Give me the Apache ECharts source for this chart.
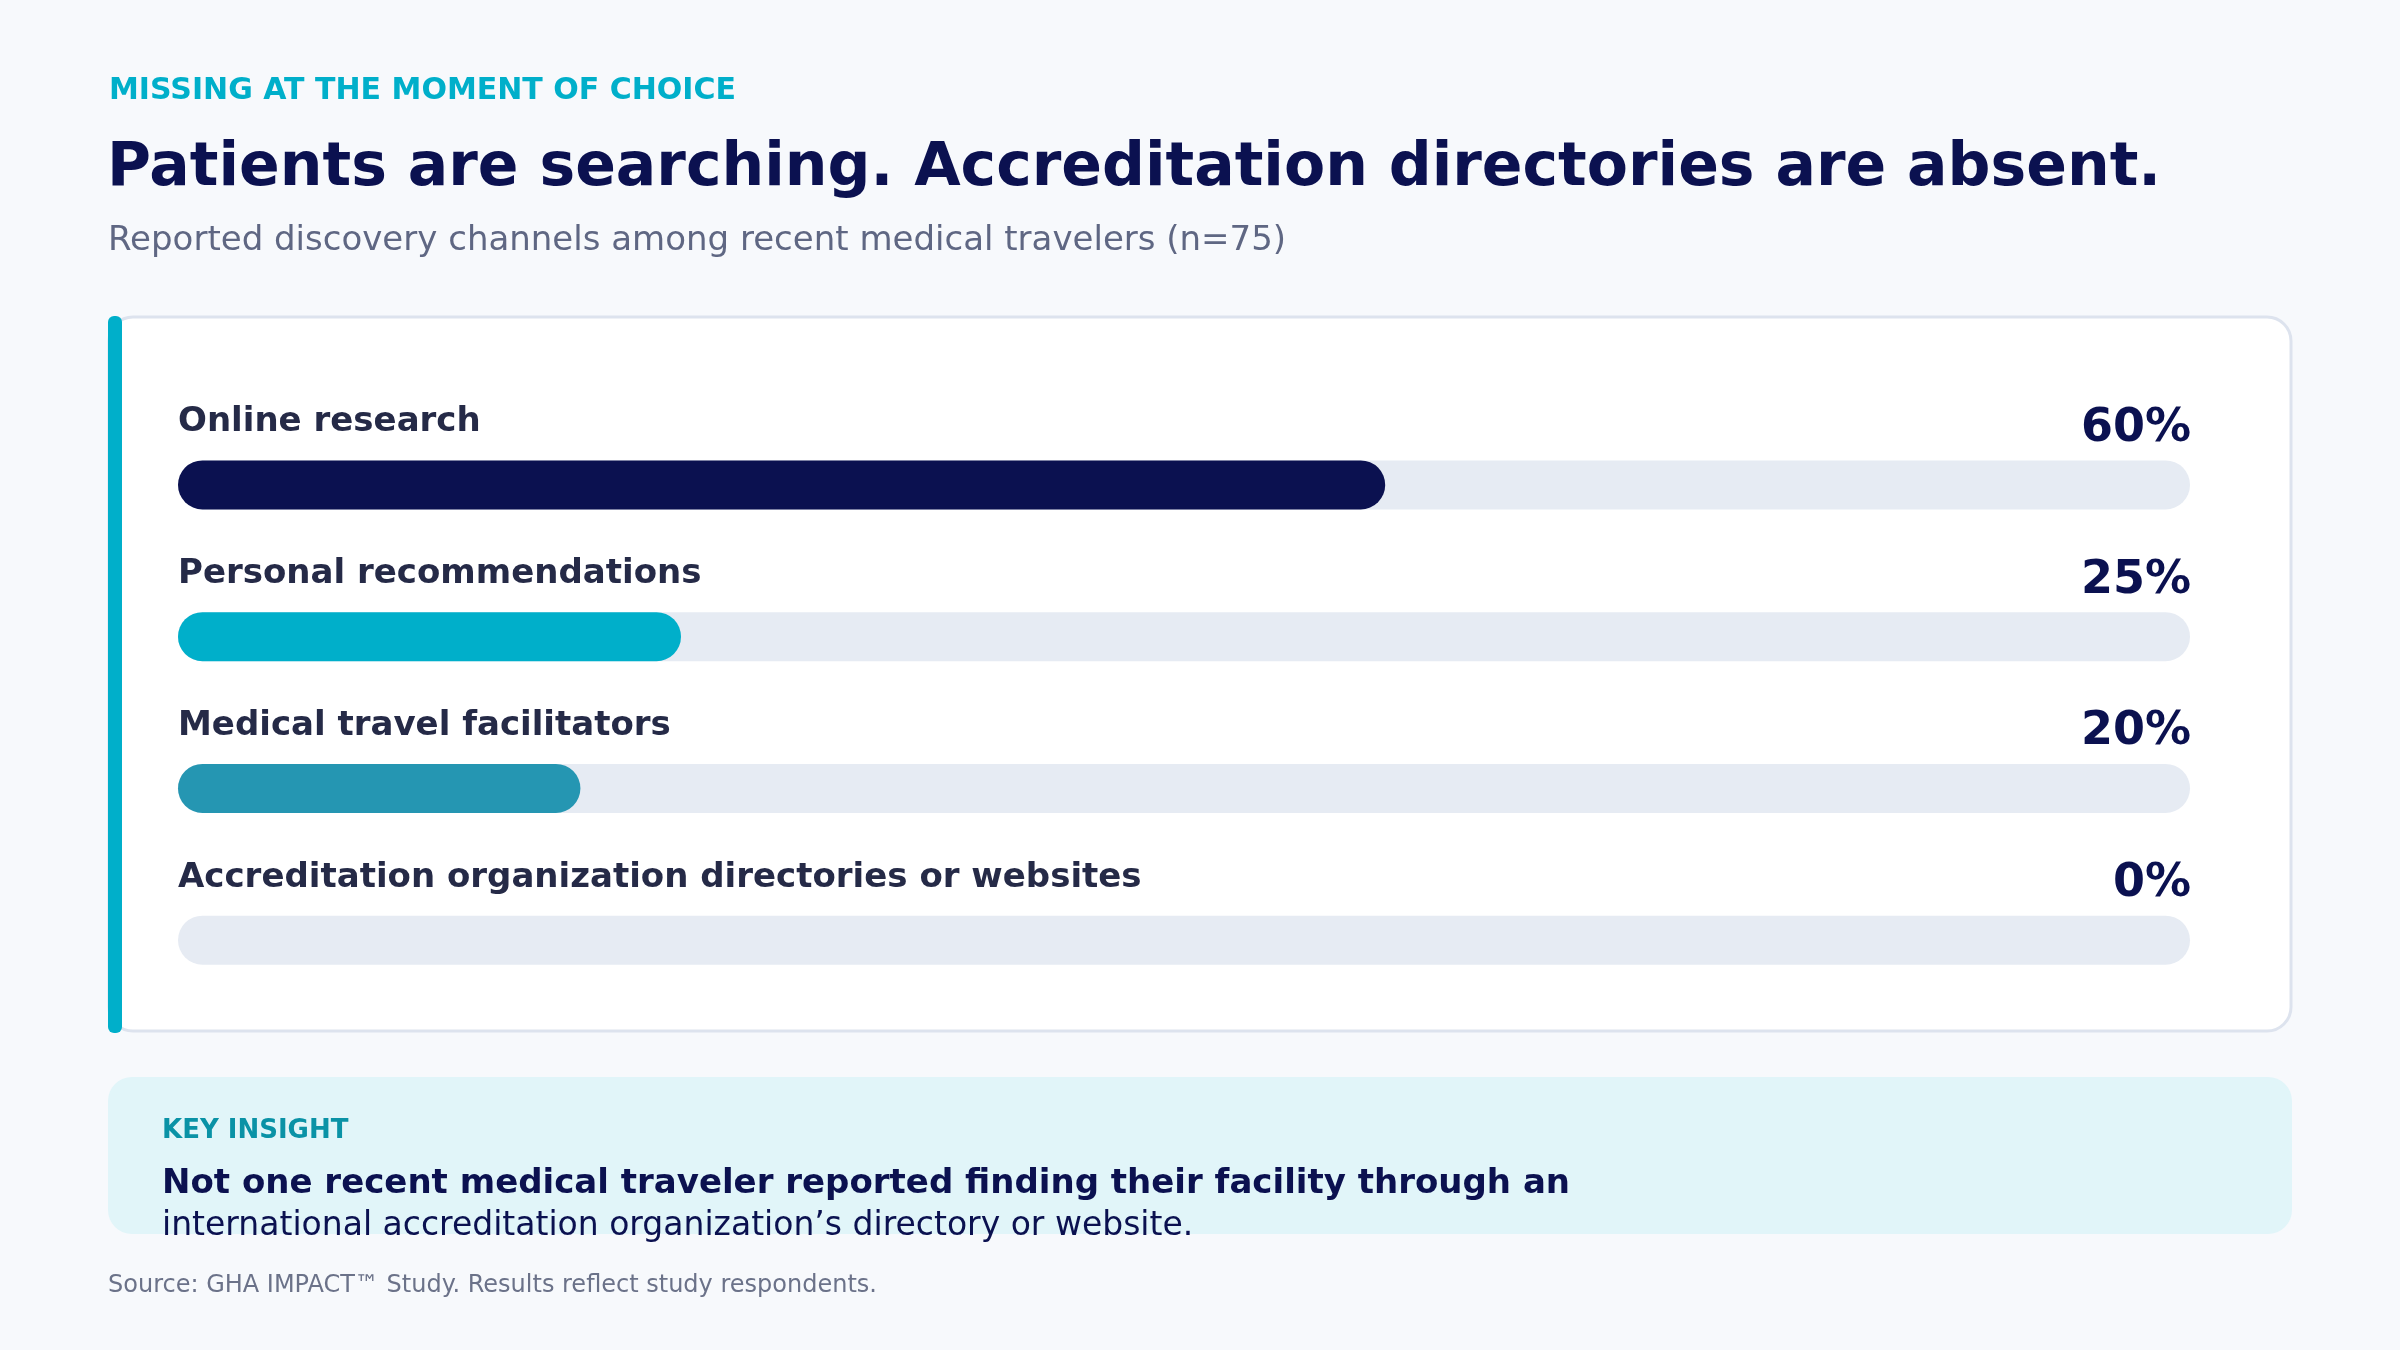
<!DOCTYPE html>
<html>
<head>
<meta charset="utf-8">
<script src="https://cdn.jsdelivr.net/npm/echarts@6/dist/echarts.min.js"></script>
<style>
  html, body { margin: 0; padding: 0; background: #f7f9fc; }
  #chart { width: 2400px; height: 1350px; }
</style>
</head>
<body>
<div id="chart"></div>
<script>
// discovery channels, top to bottom
var channels = [
    'Online research',
    'Personal recommendations',
    'Medical travel facilitators',
    'Accreditation organization directories or websites'
];
var shares = [60, 25, 20, 0];
var barColors = ['#0b1150', '#00afca', '#2596b2', '#0b1150'];
var axisTicks = [0, 100];

var FONT = 'DejaVu Sans';
var NAVY = '#0b1150';

// y for a middle-aligned text whose baseline should sit at b
function mid(b, fs) { return b - 0.29 * fs; }

var chart = echarts.init(document.getElementById('chart'));

function txt(x, b, fs, weight, color, text) {
    return {
        type: 'text', x: x, y: mid(b, fs), z: 2,
        style: { text: text, font: weight + ' ' + fs + 'px ' + FONT, fill: color,
                 verticalAlign: 'middle', textVerticalAlign: 'middle' }
    };
}

var option = {
    backgroundColor: '#f7f9fc',
    animation: false,
    graphic: [
        // card + accent
        {
            type: 'rect', z: 0,
            shape: { x: 109, y: 317, width: 2182, height: 714, r: 24 },
            style: { fill: '#ffffff', stroke: '#dde3ee', lineWidth: 3 }
        },
        {
            type: 'rect', z: 1,
            shape: { x: 108, y: 316, width: 14, height: 717, r: 6 },
            style: { fill: '#00afca' }
        },
        // insight box
        {
            type: 'rect', z: 0,
            shape: { x: 108, y: 1077, width: 2184, height: 157, r: 24 },
            style: { fill: '#e1f5f9' }
        },
        txt(109, 100, 30, 'bold', '#00afca', 'MISSING AT THE MOMENT OF CHOICE'),
        txt(107, 187, 60, 'bold', NAVY, 'Patients are searching. Accreditation directories are absent.'),
        txt(108, 251, 34, 'normal', '#5f6783', 'Reported discovery channels among recent medical travelers (n=75)'),
        txt(162, 1139, 26, 'bold', '#0a92a6', 'KEY INSIGHT'),
        txt(162, 1194, 34, 'bold', NAVY, 'Not one recent medical traveler reported finding their facility through an'),
        txt(162, 1236, 33, 'normal', NAVY, 'international accreditation organization\u2019s directory or website.'),
        txt(108, 1293, 24, 'normal', '#6b7289', 'Source: GHA IMPACT\u2122 Study. Results reflect study respondents.')
    ],
    grid: { left: 178, right: 210, top: 409, height: 607 },
    xAxis: {
        type: 'value',
        min: axisTicks[0],
        max: axisTicks[1],
        show: false
    },
    yAxis: {
        type: 'category',
        data: channels,
        inverse: true,
        axisLine: { show: false },
        axisTick: { show: false },
        axisLabel: { show: false }
    },
    series: [
        {
            type: 'bar',
            barWidth: 49,
            showBackground: true,
            backgroundStyle: { color: '#e6ebf3', borderRadius: 24.5 },
            itemStyle: { borderRadius: 24.5 },
            data: shares.map(function (v, i) {
                return { value: v, itemStyle: { color: barColors[i] } };
            })
        },
        {
            // channel name above the track's start, share above its end
            type: 'custom',
            clip: false,
            silent: true,
            z: 5,
            data: shares.map(function (v, i) { return [v, i]; }),
            encode: { x: 0, y: 1 },
            renderItem: function (params, api) {
                var i = params.dataIndex;
                var start = api.coord([axisTicks[0], i]);
                var end = api.coord([axisTicks[1], i]);
                return {
                    type: 'group',
                    children: [
                        {
                            type: 'text', x: start[0], y: start[1] - 52.5 - 0.29 * 34,
                            style: { text: channels[i], font: 'bold 34px ' + FONT, fill: '#252a47',
                                     align: 'left', verticalAlign: 'middle' }
                        },
                        {
                            type: 'text', x: end[0] + 1, y: end[1] - 42.5 - 0.29 * 46,
                            style: { text: api.value(0) + '%', font: 'bold 46px ' + FONT, fill: NAVY,
                                     align: 'right', verticalAlign: 'middle' }
                        }
                    ]
                };
            }
        }
    ]
};

chart.setOption(option);
</script>
</body>
</html>
